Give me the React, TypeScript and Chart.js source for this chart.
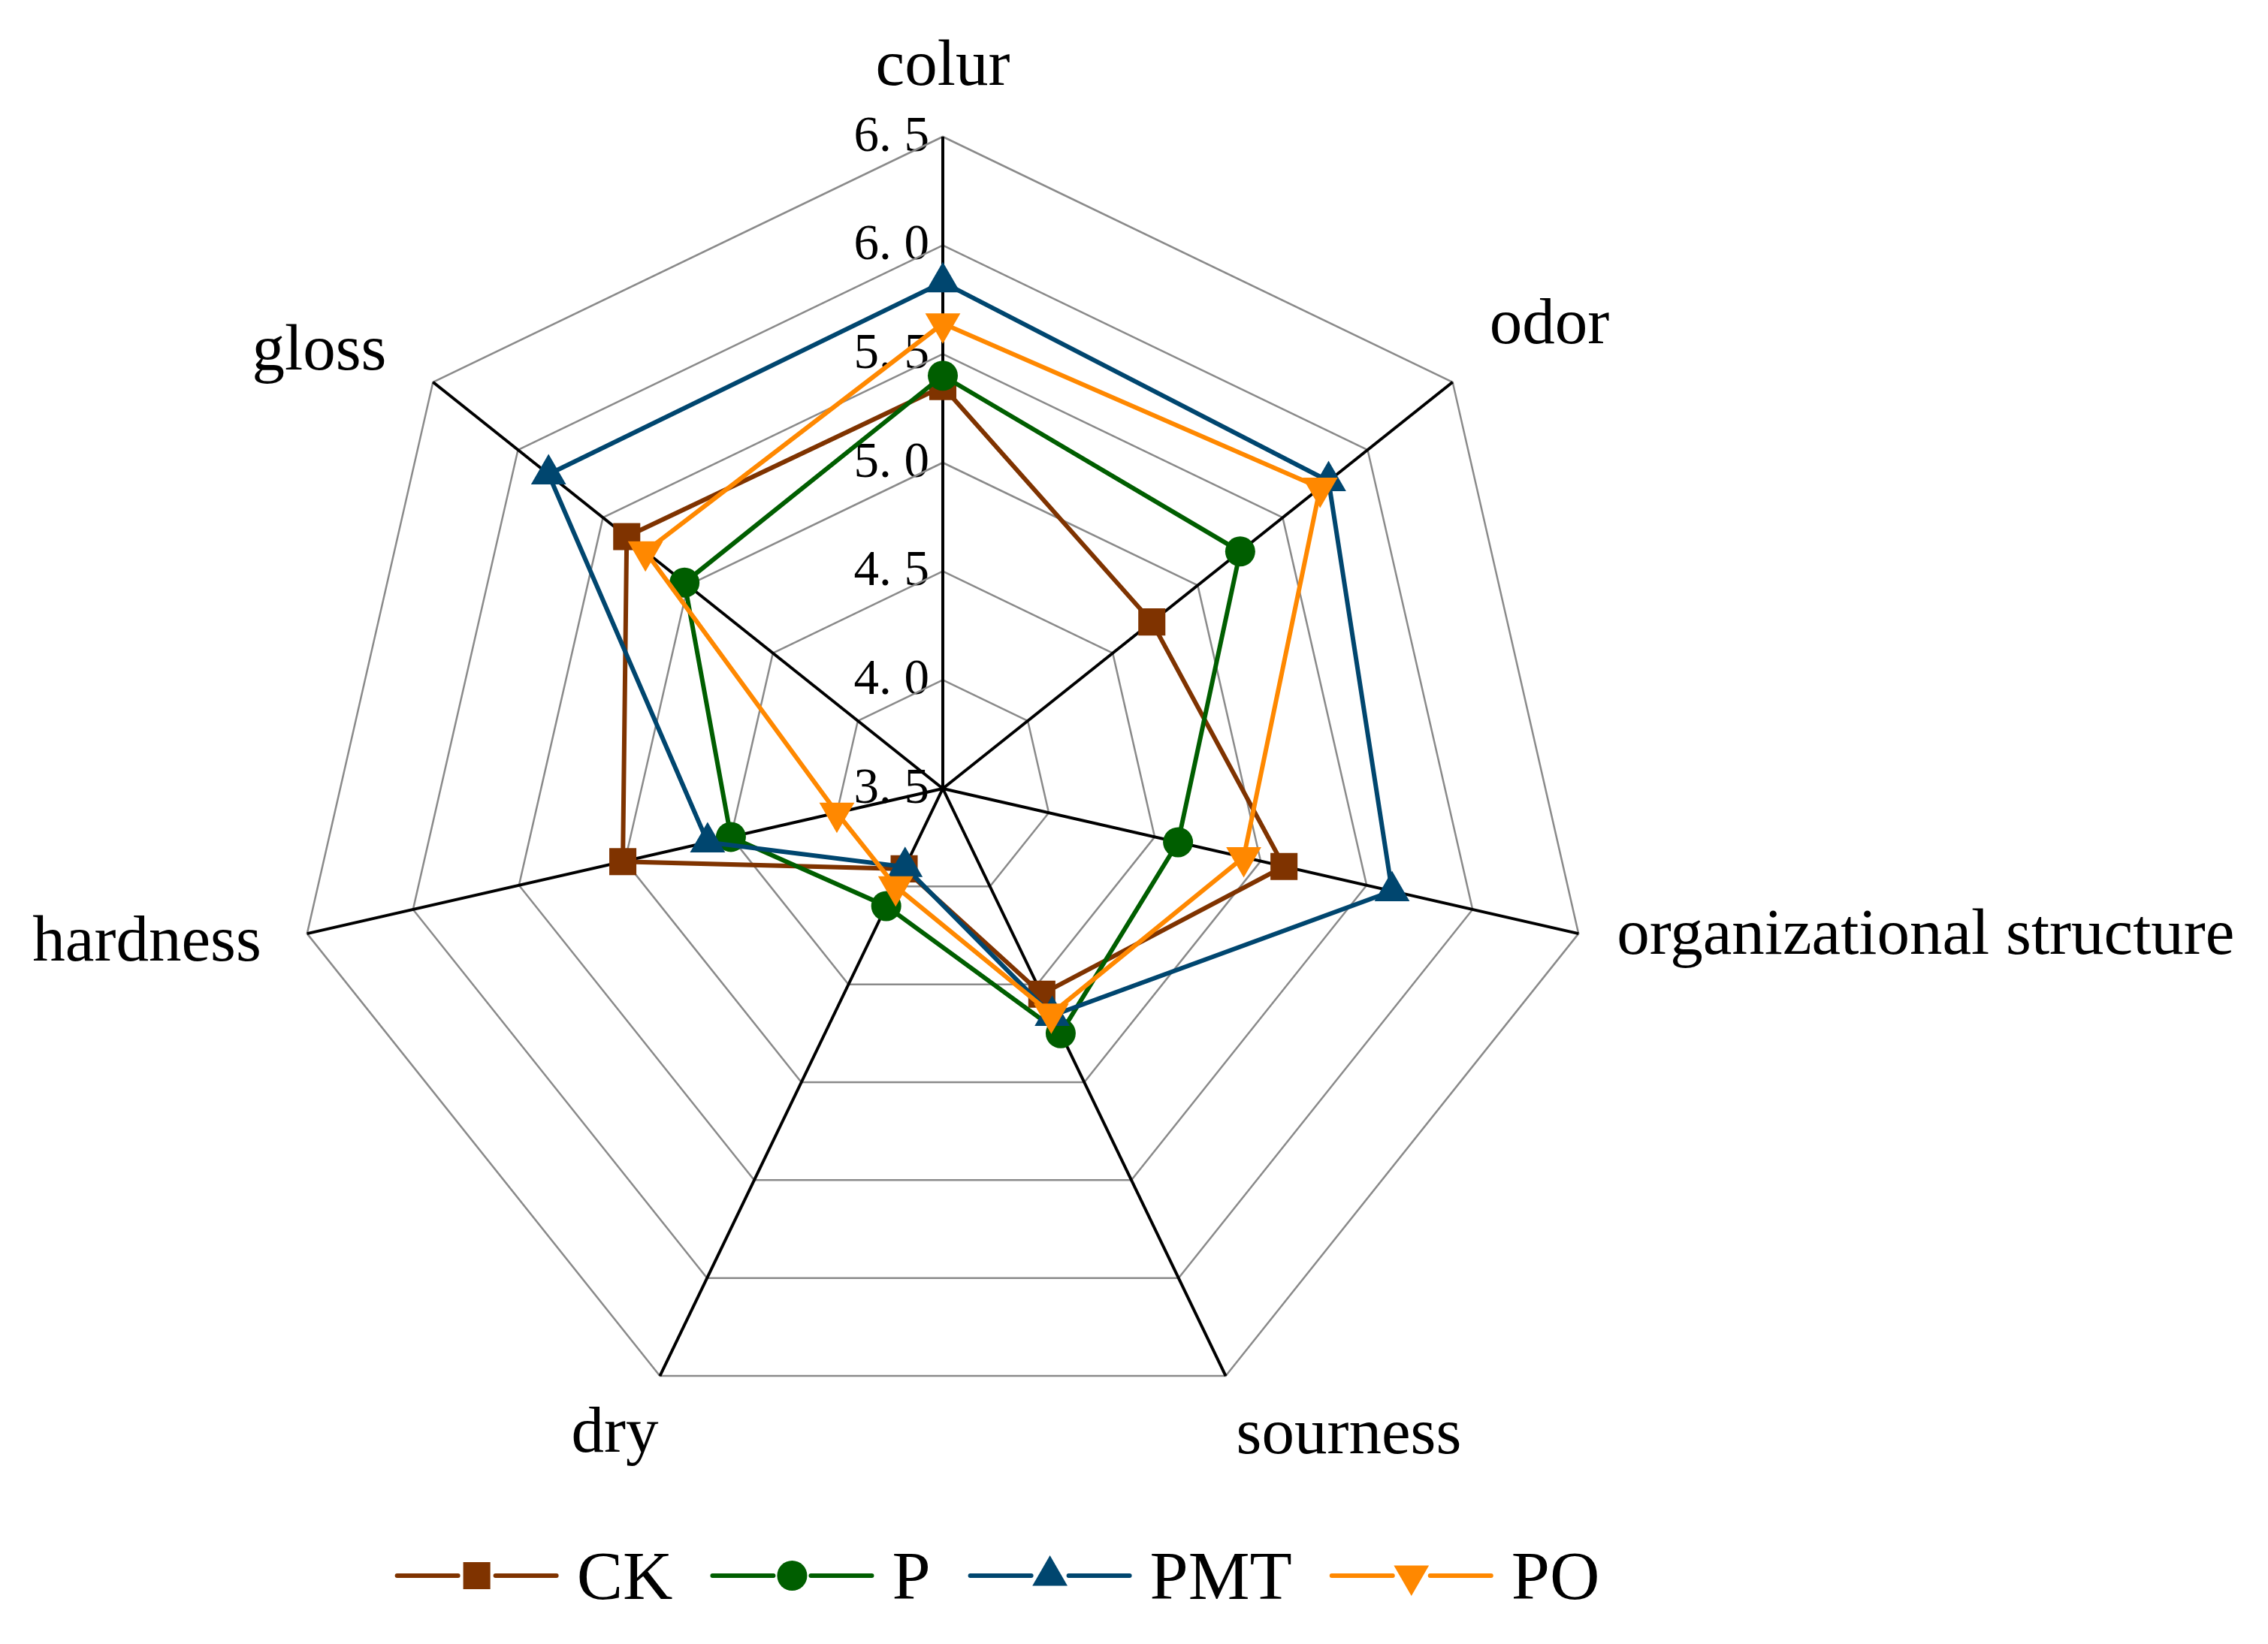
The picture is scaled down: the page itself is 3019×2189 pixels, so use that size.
import React, { useEffect, useRef } from 'react';
import { Chart, registerables } from 'chart.js';

Chart.register(...registerables);

// ---------- data ----------
const categories = ['colur', 'odor', 'organizational structure', 'sourness', 'dry', 'hardness', 'gloss'];
const seriesNames = ['CK', 'P', 'PMT', 'PO'];
const ckValues = [5.35, 4.73, 5.11, 4.55, 3.91, 5.01, 5.36];
const pValues = [5.4, 5.25, 4.61, 4.75, 4.1, 4.5, 5.02];
const pmtValues = [5.83, 5.77, 5.62, 4.66, 3.9, 4.61, 5.82];
const poValues = [5.64, 5.72, 4.92, 4.65, 4.0, 4.0, 5.25];
const tickValues = [3.5, 4.0, 4.5, 5.0, 5.5, 6.0, 6.5];
const tickLabels = ['3.5', '4.0', '4.5', '5.0', '5.5', '6.0', '6.5'];

// ---------- styles ----------
const seriesColors = ['#7f3300', '#005e00', '#00466f', '#ff8800'];
const seriesPointStyles = ['rect', 'circle', 'triangle', 'triangle'];
const seriesRotations = [0, 0, 0, 180];
const seriesRadii = [25.5, 20, 27, 27];
const FONT = '"Liberation Serif", "Times New Roman", serif';

// label placement relative to each axis end (align, dx, dy)
const labelAlign = ['center', 'left', 'left', 'left', 'right', 'right', 'right'];
const labelDx = [0, 49, 51, 14, -2, -61, -62];
const labelDy = [-69, -52, 27, 103, 101, 36, -17];

function drawMarker(ctx: any, style: string, rotation: number, r: number, x: number, y: number) {
  ctx.beginPath();
  if (style === 'rect') {
    const s = Math.SQRT1_2 * r;
    ctx.rect(x - s, y - s, 2 * s, 2 * s);
  } else if (style === 'circle') {
    ctx.arc(x, y, r, 0, Math.PI * 2);
  } else {
    let rad = (rotation * Math.PI) / 180;
    for (let k = 0; k < 3; k++) {
      const px = x + Math.sin(rad) * r;
      const py = y - Math.cos(rad) * r;
      if (k === 0) ctx.moveTo(px, py);
      else ctx.lineTo(px, py);
      rad += (2 * Math.PI) / 3;
    }
    ctx.closePath();
  }
  ctx.fill();
}

const tickLabelPlugin = {
  id: 'tickLabelPlugin',
  beforeDraw(chart: any) {
    const r = chart.scales.r;
    const ctx = chart.ctx;
    const size = 67;
    const pitch = size / 2;
    ctx.save();
    ctx.font = `${size}px ${FONT}`;
    ctx.fillStyle = '#000';
    ctx.textAlign = 'left';
    ctx.textBaseline = 'middle';
    tickValues.forEach((v, i) => {
      const p = r.getPointPositionForValue(0, v);
      const label = tickLabels[i];
      const total = label.length * pitch;
      const x0 = p.x - 18 - total;
      for (let k = 0; k < label.length; k++) {
        ctx.fillText(label[k], x0 + k * pitch, p.y + 1);
      }
    });
    ctx.restore();
  },
};

const pointLabelPlugin = {
  id: 'pointLabelPlugin',
  afterDraw(chart: any) {
    const r = chart.scales.r;
    const ctx = chart.ctx;
    ctx.save();
    ctx.font = `87px ${FONT}`;
    ctx.fillStyle = '#000';
    ctx.textBaseline = 'alphabetic';
    categories.forEach((c, i) => {
      const p = r.getPointPosition(i, r.drawingArea);
      ctx.textAlign = labelAlign[i];
      ctx.fillText(c, p.x + labelDx[i], p.y + labelDy[i]);
    });
    ctx.restore();
  },
};

const legendPlugin = {
  id: 'customLegend',
  afterDraw(chart: any) {
    const ctx = chart.ctx;
    const fontSize = 92;
    const symW = 218;
    const gapText = 24;
    const gapItem = 50;
    const cy = 2090;
    const baseline = 2121;
    const centerX = 1319.5;
    ctx.save();
    ctx.font = `${fontSize}px ${FONT}`;
    const widths = seriesNames.map((n) => ctx.measureText(n).width);
    const total = seriesNames.length * (symW + gapText) + widths.reduce((a, b) => a + b, 0) + (seriesNames.length - 1) * gapItem;
    let x = centerX - total / 2;
    seriesNames.forEach((name, i) => {
      const color = seriesColors[i];
      const mx = x + symW / 2;
      ctx.strokeStyle = color;
      ctx.fillStyle = color;
      ctx.lineWidth = 6;
      ctx.lineCap = 'round';
      ctx.beginPath();
      ctx.moveTo(x + 3, cy);
      ctx.lineTo(mx - 25, cy);
      ctx.moveTo(mx + 25, cy);
      ctx.lineTo(x + symW - 3, cy);
      ctx.stroke();
      drawMarker(ctx, seriesPointStyles[i], seriesRotations[i], seriesRadii[i], mx, cy);
      ctx.fillStyle = '#000';
      ctx.textAlign = 'left';
      ctx.textBaseline = 'alphabetic';
      ctx.fillText(name, x + symW + gapText, baseline);
      x += symW + gapText + widths[i] + gapItem;
    });
    ctx.restore();
  },
};

export default function App() {
  const canvasRef = useRef<HTMLCanvasElement | null>(null);

  useEffect(() => {
    if (!canvasRef.current) return;
    const allValues = [ckValues, pValues, pmtValues, poValues];
    const datasets = seriesNames.map((name, i) => ({
      label: name,
      data: allValues[i],
      borderColor: seriesColors[i],
      backgroundColor: seriesColors[i],
      borderWidth: 6,
      fill: false,
      tension: 0,
      pointStyle: seriesPointStyles[i],
      pointRotation: seriesRotations[i],
      pointRadius: seriesRadii[i],
      pointHoverRadius: seriesRadii[i],
      pointBackgroundColor: seriesColors[i],
      pointBorderColor: seriesColors[i],
      pointBorderWidth: 0,
      order: seriesNames.length - i,
    }));

    const chart = new Chart(canvasRef.current, {
      type: 'radar',
      data: { labels: categories, datasets },
      options: {
        animation: false,
        responsive: true,
        maintainAspectRatio: false,
        layout: { padding: { left: 379, top: 174, right: 888, bottom: 263 } },
        plugins: {
          legend: { display: false },
          tooltip: { enabled: false },
        },
        scales: {
          r: {
            min: 3.5,
            max: 6.5,
            beginAtZero: false,
            ticks: { display: false, stepSize: 0.5 },
            pointLabels: { display: false },
            grid: { circular: false, color: '#8a8a8a', lineWidth: 2.5 },
            angleLines: { display: true, color: '#000000', lineWidth: 4 },
          },
        },
      } as any,
      plugins: [tickLabelPlugin, pointLabelPlugin, legendPlugin],
    });
    return () => chart.destroy();
  }, []);

  return (
    <div style={{ width: '3003px', height: '2173px', position: 'relative' }}>
      <canvas ref={canvasRef} style={{ display: 'block' }} />
    </div>
  );
}
